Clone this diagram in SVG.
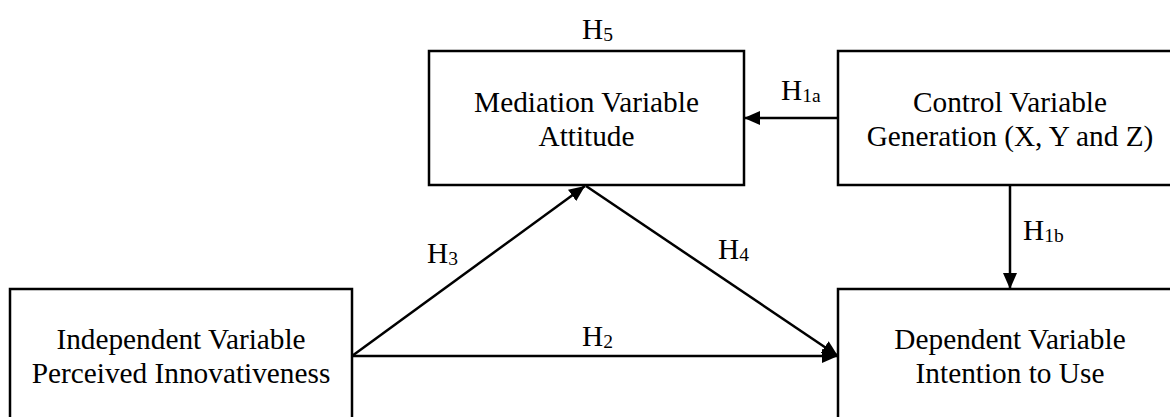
<svg xmlns="http://www.w3.org/2000/svg" width="1170" height="417" viewBox="0 0 1170 417">
<defs>
<style>
.box{fill:#fff;stroke:#000;stroke-width:2.5}
.t{font-family:"Liberation Serif","Times New Roman",serif;font-size:29.3px;fill:#000}
.c{text-anchor:middle}
.sub{font-size:19.5px}
.ln{stroke:#000;stroke-width:2.5;fill:none;marker-end:url(#ah)}
</style>
<marker id="ah" markerUnits="userSpaceOnUse" markerWidth="16" markerHeight="14" refX="16" refY="7" orient="auto" viewBox="0 0 16 14">
<path d="M0,0 L16,7 L0,14 Z" fill="#000"/>
</marker>
</defs>
<rect width="1170" height="417" fill="#fff"/>
<g id="mediation">
<rect class="box" x="429" y="51" width="315" height="134"/>
<text class="t c" x="586.5" y="112">Mediation Variable</text>
<text class="t c" x="586.5" y="146">Attitude</text>
</g>
<g id="control">
<rect class="box" x="838" y="51" width="350" height="134"/>
<text class="t c" x="1010" y="112">Control Variable</text>
<text class="t c" x="1010" y="146">Generation (X, Y and Z)</text>
</g>
<g id="independent">
<rect class="box" x="10" y="289" width="342" height="200"/>
<text class="t c" x="181" y="349">Independent Variable</text>
<text class="t c" x="181" y="383">Perceived Innovativeness</text>
</g>
<g id="dependent">
<rect class="box" x="838" y="289" width="350" height="200"/>
<text class="t c" x="1010" y="349">Dependent Variable</text>
<text class="t c" x="1010" y="383">Intention to Use</text>
</g>
<g id="connectors">
<line class="ln" x1="838" y1="118" x2="744" y2="118"/>
<line class="ln" x1="1010" y1="185" x2="1010" y2="289"/>
<line class="ln" x1="352" y1="356" x2="838" y2="356"/>
<line class="ln" x1="352" y1="356" x2="585" y2="186"/>
<line class="ln" x1="586" y1="186" x2="838" y2="356"/>
</g>
<g id="labels">
<text class="t" x="582" y="39">H<tspan class="sub" dy="2">5</tspan></text>
<text class="t" x="781" y="100">H<tspan class="sub" dy="2">1a</tspan></text>
<text class="t" x="1023" y="240">H<tspan class="sub" dy="2">1b</tspan></text>
<text class="t" x="427" y="263">H<tspan class="sub" dy="2">3</tspan></text>
<text class="t" x="718" y="259">H<tspan class="sub" dy="2">4</tspan></text>
<text class="t" x="582" y="346">H<tspan class="sub" dy="2">2</tspan></text>
</g>
</svg>
